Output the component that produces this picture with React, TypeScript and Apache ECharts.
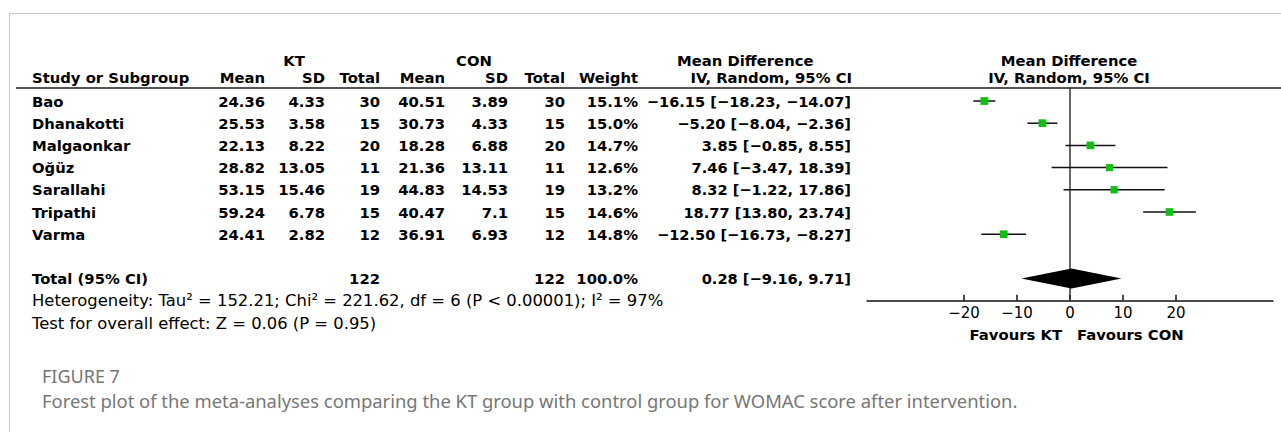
import React, { useEffect, useRef } from "react";
import * as echarts from "echarts";

// ---------------- data ----------------
const studies = ["Bao", "Dhanakotti", "Malgaonkar", "Oğüz", "Sarallahi", "Tripathi", "Varma"];
const ktMean = [24.36, 25.53, 22.13, 28.82, 53.15, 59.24, 24.41];
const ktSD = [4.33, 3.58, 8.22, 13.05, 15.46, 6.78, 2.82];
const ktTotal = [30, 15, 20, 11, 19, 15, 12];
const conMean = [40.51, 30.73, 18.28, 21.36, 44.83, 40.47, 36.91];
const conSD = [3.89, 4.33, 6.88, 13.11, 14.53, 7.1, 6.93];
const conTotal = [30, 15, 20, 11, 19, 15, 12];
const weights = [15.1, 15.0, 14.7, 12.6, 13.2, 14.6, 14.8];
const meanDiff = [-16.15, -5.2, 3.85, 7.46, 8.32, 18.77, -12.5];
const ciLow = [-18.23, -8.04, -0.85, -3.47, -1.22, 13.8, -16.73];
const ciHigh = [-14.07, -2.36, 8.55, 18.39, 17.86, 23.74, -8.27];
const totalKT = 122;
const totalCON = 122;
const totalWeight = 100.0;
const pooledMD = 0.28;
const pooledLow = -9.16;
const pooledHigh = 9.71;
const xTicks = [-20, -10, 0, 10, 20];
const heterogeneityText = "Heterogeneity: Tau² = 152.21; Chi² = 221.62, df = 6 (P < 0.00001); I² = 97%";
const overallText = "Test for overall effect: Z = 0.06 (P = 0.95)";
const figureLabel = "FIGURE 7";
const captionText =
  "Forest plot of the meta-analyses comparing the KT group with control group for WOMAC score after intervention.";

// ---------------- layout ----------------
const W = 1281;
const H = 432;
const FONT = "DejaVu Sans";
const FS = 14.8;
const fmt = (v: number) => v.toFixed(2).replace("-", "−");
const ciText = (m: number, lo: number, hi: number) => `${fmt(m)} [${fmt(lo)}, ${fmt(hi)}]`;

const plotRow0 = 101;
const plotStep = 22.2;
const yMin = -0.6;
const yMax = 9;
const rowPx = (r: number) => plotRow0 + plotStep * r;
const totalRow = studies.length + 1;
const gridLeft = 867;
const gridWidth = 406;

function txt(text: string, x: number, y: number, align: string, opts: any = {}) {
  return {
    type: "text",
    x,
    y,
    silent: true,
    style: {
      text,
      align,
      verticalAlign: "middle",
      fill: "#000",
      fontFamily: FONT,
      fontSize: FS,
      fontWeight: "bold",
      ...opts,
    },
  };
}

function hline(x1: number, x2: number, y: number, stroke: string, lw: number) {
  return { type: "line", silent: true, shape: { x1, y1: y, x2, y2: y }, style: { stroke, lineWidth: lw } };
}

function buildGraphic() {
  const g: any[] = [];
  // frame
  g.push(hline(9.5, W, 13.5, "#c8c8c8", 1));
  g.push({ type: "line", silent: true, shape: { x1: 9.5, y1: 13.5, x2: 9.5, y2: H }, style: { stroke: "#c8c8c8", lineWidth: 1 } });
  // header line
  g.push(hline(16, W, 88, "#555", 2));

  // header rows
  const h1 = 60;
  const h2 = 77;
  g.push(txt("KT", 294, h1, "center"));
  g.push(txt("CON", 474, h1, "center"));
  g.push(txt("Mean Difference", 677, h1, "left"));
  g.push(txt("Mean Difference", 1069, h1, "center"));
  g.push(txt("Study or Subgroup", 32, h2, "left"));
  const cols = [265, 325, 380, 445, 508, 565, 638, 852];
  const heads = ["Mean", "SD", "Total", "Mean", "SD", "Total", "Weight", "IV, Random, 95% CI"];
  heads.forEach((h, k) => g.push(txt(h, cols[k], h2, "right")));
  g.push(txt("IV, Random, 95% CI", 1069, h2, "center"));

  // study rows
  studies.forEach((s, i) => {
    const y = rowPx(i);
    g.push(txt(s, 32, y, "left"));
    g.push(txt(String(ktMean[i]), 265, y, "right"));
    g.push(txt(String(ktSD[i]), 325, y, "right"));
    g.push(txt(String(ktTotal[i]), 380, y, "right"));
    g.push(txt(String(conMean[i]), 445, y, "right"));
    g.push(txt(String(conSD[i]), 508, y, "right"));
    g.push(txt(String(conTotal[i]), 565, y, "right"));
    g.push(txt(weights[i].toFixed(1) + "%", 638, y, "right"));
    g.push(txt(ciText(meanDiff[i], ciLow[i], ciHigh[i]), 851, y, "right", { fontSize: 14.6 }));
  });

  // total row
  const ty = rowPx(totalRow);
  g.push(txt("Total (95% CI)", 32, ty, "left"));
  g.push(txt(String(totalKT), 380, ty, "right"));
  g.push(txt(String(totalCON), 565, ty, "right"));
  g.push(txt(totalWeight.toFixed(1) + "%", 638, ty, "right"));
  g.push(txt(ciText(pooledMD, pooledLow, pooledHigh), 851, ty, "right", { fontSize: 14.6 }));

  // footers
  g.push(txt(heterogeneityText, 32, rowPx(totalRow + 1), "left", { fontWeight: "normal", fontSize: 16.4 }));
  g.push(txt(overallText, 32, rowPx(totalRow + 2), "left", { fontWeight: "normal", fontSize: 16.4 }));

  // favours
  g.push(txt("Favours KT", 1062, 334, "right"));
  g.push(txt("Favours CON", 1077, 334, "left"));

  // caption
  g.push(txt(figureLabel, 42, 376, "left", { fontFamily: "Noto Sans", fontSize: 18, fontWeight: "normal", fill: "#747474" }));
  g.push(txt(captionText, 42, 400, "left", { fontFamily: "Noto Sans", fontSize: 18.4, fontWeight: "normal", fill: "#777" }));
  return g;
}

function buildOption(): any {
  const studyData = studies.map((s, i) => [ciLow[i], ciHigh[i], meanDiff[i], i, weights[i]]);
  return {
    animation: false,
    backgroundColor: "#fff",
    grid: {
      left: gridLeft,
      width: gridWidth,
      top: rowPx(yMin),
      height: (yMax - yMin) * plotStep,
      containLabel: false,
    },
    xAxis: {
      type: "value",
      min: -38.3,
      max: 38.3,
      axisLine: { show: true, onZero: false, lineStyle: { color: "#111", width: 1.5 } },
      axisTick: { show: true, inside: true, length: 6, customValues: xTicks, lineStyle: { color: "#111", width: 1.5 } },
      axisLabel: {
        customValues: xTicks,
        formatter: (v: number) => (v < 0 ? "−" + Math.abs(v) : String(v)),
        color: "#000",
        fontFamily: FONT,
        fontSize: 15,
        margin: 5,
      },
      splitLine: { show: false },
    },
    yAxis: {
      type: "value",
      min: yMin,
      max: yMax,
      inverse: true,
      show: false,
      splitLine: { show: false },
    },
    graphic: buildGraphic(),
    series: [
      {
        type: "line",
        data: [
          [0, yMin],
          [0, yMax],
        ],
        symbol: "none",
        silent: true,
        lineStyle: { color: "#333", width: 1.5 },
        z: 1,
      },
      {
        type: "custom",
        data: studyData,
        encode: { x: [0, 1, 2], y: 3 },
        silent: true,
        z: 3,
        renderItem: (params: any, api: any) => {
          const row = api.value(3);
          const lo = api.coord([api.value(0), row]);
          const hi = api.coord([api.value(1), row]);
          const c = api.coord([api.value(2), row]);
          const sz = Math.sqrt(api.value(4)) * 2;
          return {
            type: "group",
            children: [
              { type: "line", shape: { x1: lo[0], y1: lo[1], x2: hi[0], y2: hi[1] }, style: { stroke: "#111", lineWidth: 1.5 } },
              { type: "rect", shape: { x: c[0] - sz / 2, y: c[1] - sz / 2, width: sz, height: sz }, style: { fill: "#12be12" } },
            ],
          };
        },
      },
      {
        type: "custom",
        data: [[pooledLow, pooledMD, pooledHigh, totalRow]],
        encode: { x: [0, 1, 2], y: 3 },
        silent: true,
        z: 4,
        renderItem: (params: any, api: any) => {
          const row = api.value(3);
          const l = api.coord([api.value(0), row]);
          const m = api.coord([api.value(1), row]);
          const r = api.coord([api.value(2), row]);
          const h = 10;
          return {
            type: "polygon",
            shape: { points: [[l[0], l[1]], [m[0], m[1] - h], [r[0], r[1]], [m[0], m[1] + h]] },
            style: { fill: "#000" },
          };
        },
      },
    ],
  };
}

export default function App() {
  const ref = useRef<HTMLDivElement>(null);
  useEffect(() => {
    const chart = echarts.init(ref.current!, null, { renderer: "svg" });
    chart.setOption(buildOption());
    return () => chart.dispose();
  }, []);
  return <div ref={ref} style={{ position: "fixed", left: 0, top: 0, width: W, height: H, background: "#fff" }} />;
}
